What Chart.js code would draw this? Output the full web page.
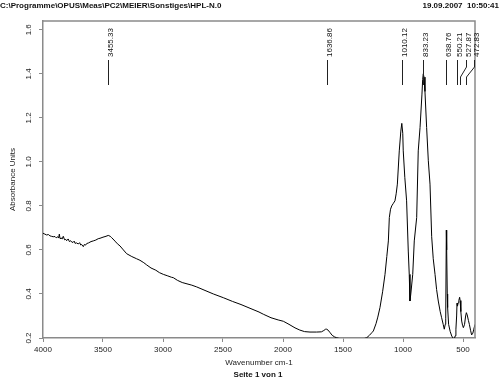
<!DOCTYPE html>
<html>
<head>
<meta charset="utf-8">
<script src="https://cdn.jsdelivr.net/npm/chart.js@4/dist/chart.umd.min.js"></script>
<style>
html,body{margin:0;padding:0;background:#fff;}
#wrap{width:500px;height:380px;position:relative;}
</style>
</head>
<body>
<div id="wrap"><canvas id="c" width="500" height="380"></canvas></div>
<script>
// ---- data ----
const wavenumbers = [4000,3985,3970,3955,3942,3930,3915,3900,3890,3878,3870,3864,3858,3850,3840,3831,3820,3810,3803,3790,3780,3770,3761,3750,3740,3733,3720,3706,3695,3685,3678,3664,3655,3645,3636,3620,3600,3581,3560,3540,3525,3500,3475,3456,3440,3428,3400,3380,3358,3330,3303,3260,3220,3192,3160,3136,3100,3060,3030,2997,2960,2930,2914,2880,2840,2800,2760,2719,2650,2580,2497,2420,2350,2275,2200,2164,2100,2040,1997,1950,1900,1860,1820,1775,1720,1680,1660,1645,1636,1625,1610,1590,1570,1553,1520,1497,1450,1400,1386,1350,1320,1303,1280,1260,1247,1225,1210,1192,1170,1150,1135,1122,1114,1104,1094,1080,1067,1057,1047,1031,1018,1010,1002,998,985,970,956,948,942,935,919,906,886,873,858,842,836,831,825,817,803,789,775,761,748,733,720,706,690,678,665,656,648,644,639,636,631,628,620,607,594,583,573,565,559,553,550,546,540,535,528,524,518,511,504,497,487,478,472,465,455,447,437,428,418,410,400];
const absorbance = [0.676,0.672,0.668,0.670,0.664,0.662,0.660,0.661,0.655,0.660,0.654,0.672,0.652,0.655,0.650,0.662,0.646,0.648,0.642,0.650,0.638,0.642,0.636,0.634,0.640,0.630,0.632,0.627,0.633,0.622,0.625,0.615,0.625,0.622,0.629,0.632,0.638,0.641,0.645,0.651,0.653,0.658,0.662,0.666,0.662,0.656,0.640,0.628,0.618,0.600,0.583,0.570,0.560,0.553,0.542,0.532,0.518,0.508,0.497,0.489,0.482,0.476,0.474,0.462,0.452,0.446,0.440,0.432,0.416,0.400,0.383,0.366,0.352,0.335,0.318,0.308,0.292,0.282,0.276,0.262,0.246,0.236,0.229,0.227,0.227,0.228,0.234,0.240,0.240,0.236,0.226,0.212,0.205,0.201,0.196,0.193,0.190,0.190,0.192,0.196,0.198,0.201,0.212,0.224,0.232,0.265,0.295,0.338,0.410,0.489,0.570,0.641,0.747,0.785,0.800,0.812,0.823,0.855,0.899,1.050,1.140,1.175,1.130,1.050,0.930,0.823,0.595,0.489,0.368,0.400,0.489,0.641,0.747,1.050,1.156,1.308,1.375,1.400,1.385,1.320,1.156,1.005,0.899,0.660,0.560,0.489,0.420,0.368,0.320,0.292,0.262,0.240,0.262,0.290,0.690,0.600,0.400,0.338,0.262,0.230,0.209,0.200,0.194,0.210,0.240,0.300,0.358,0.345,0.360,0.370,0.385,0.370,0.320,0.277,0.258,0.247,0.262,0.300,0.315,0.305,0.280,0.262,0.235,0.214,0.222,0.240,0.262];
const xTickValues = [4000,3500,3000,2500,2000,1500,1000,500];
const yTickValues = [0.2,0.4,0.6,0.8,1.0,1.2,1.4,1.6];
const peakWavenumbers = [3455.33,1636.86,1010.12,833.23,638.76,550.21,527.87,472.83];
const peakLabels = ['3455.33','1636.86','1010.12','833.23','638.76','550.21','527.87','472.83'];
const headerLeft = 'C:\\Programme\\OPUS\\Meas\\PC2\\MEIER\\Sonstiges\\HPL-N.0';
const headerRight = '19.09.2007  10:50:41';
const footerText = 'Seite 1 von 1';
const xTitle = 'Wavenumber cm-1';
const yTitle = 'Absorbance Units';

const FONT = '"Liberation Sans", Arial, sans-serif';
const points = wavenumbers.map((w,i)=>({x:w,y:absorbance[i]}));

const extras = {
  id:'extras',
  afterDraw(chart){
    const ctx = chart.ctx, a = chart.chartArea, xs = chart.scales.x;
    ctx.save();
    // frame top/right
    ctx.strokeStyle = '#8a8a8a';
    ctx.lineWidth = 1.5;
    ctx.beginPath();
    ctx.moveTo(a.left, a.top); ctx.lineTo(a.right, a.top); ctx.lineTo(a.right, a.bottom);
    ctx.stroke();
    // header
    ctx.fillStyle = '#111';
    ctx.font = 'bold 8px ' + FONT;
    ctx.textBaseline = 'middle';
    ctx.textAlign = 'left';
    ctx.fillText(headerLeft, 0, 6);
    ctx.textAlign = 'right';
    ctx.fillText(headerRight, 499, 6);
    // footer
    ctx.textAlign = 'center';
    ctx.fillText(footerText, 258, 375);
    // peak labels
    const shifts = [0,0,0,0,0,0,6,8];
    ctx.font = '8px ' + FONT;
    ctx.strokeStyle = '#222';
    ctx.lineWidth = 1;
    peakWavenumbers.forEach((w,i)=>{
      const px = Math.round(xs.getPixelForValue(w)) + 0.5;
      const lx = px + shifts[i];
      ctx.save();
      ctx.translate(lx + 2, 57);
      ctx.rotate(-Math.PI/2);
      ctx.textAlign = 'left';
      ctx.textBaseline = 'middle';
      ctx.fillText(peakLabels[i], 0, 0);
      ctx.restore();
      ctx.beginPath();
      if (shifts[i]) {
        ctx.moveTo(lx, 60); ctx.lineTo(lx, 67); ctx.lineTo(px, 77); ctx.lineTo(px, 85);
      } else {
        ctx.moveTo(px, 60); ctx.lineTo(px, 85);
      }
      ctx.stroke();
    });
    ctx.restore();
  }
};

new Chart(document.getElementById('c'), {
  type:'line',
  data:{datasets:[{data:points, borderColor:'#000', borderWidth:1, pointRadius:0, tension:0, fill:false}]},
  options:{
    responsive:false, animation:false, devicePixelRatio:1,
    layout:{padding:{top:21,right:25,bottom:12,left:0}},
    plugins:{legend:{display:false},tooltip:{enabled:false}},
    scales:{
      x:{type:'linear', reverse:true, min:400, max:4000,
        afterBuildTicks(s){ s.ticks = xTickValues.map(v=>({value:v})); },
        afterFit(s){ s.height = 30; },
        grid:{display:true, drawOnChartArea:false, drawTicks:true, tickLength:4, color:'#8a8a8a'},
        border:{display:true, color:'#8a8a8a', width:1.5},
        ticks:{color:'#222', font:{family:FONT,size:8}, padding:3, maxRotation:0, autoSkip:false,
          callback:v=>String(v)},
        title:{display:true, text:xTitle, color:'#222', font:{family:FONT,size:8}, padding:0}
      },
      y:{type:'linear', min:0.2, max:1.64,
        afterBuildTicks(s){ s.ticks = yTickValues.map(v=>({value:v})); },
        afterFit(s){ s.width = 43; },
        grid:{display:true, drawOnChartArea:false, drawTicks:true, tickLength:4, color:'#8a8a8a'},
        border:{display:true, color:'#8a8a8a', width:1.5},
        ticks:{color:'#222', font:{family:FONT,size:8}, padding:5, minRotation:90, maxRotation:90, crossAlign:'center',
          callback:v=>v.toFixed(1)},
        title:{display:true, text:yTitle, color:'#222', font:{family:FONT,size:8}, padding:{top:8,bottom:0}}
      }
    }
  },
  plugins:[extras]
});
</script>
</body>
</html>
